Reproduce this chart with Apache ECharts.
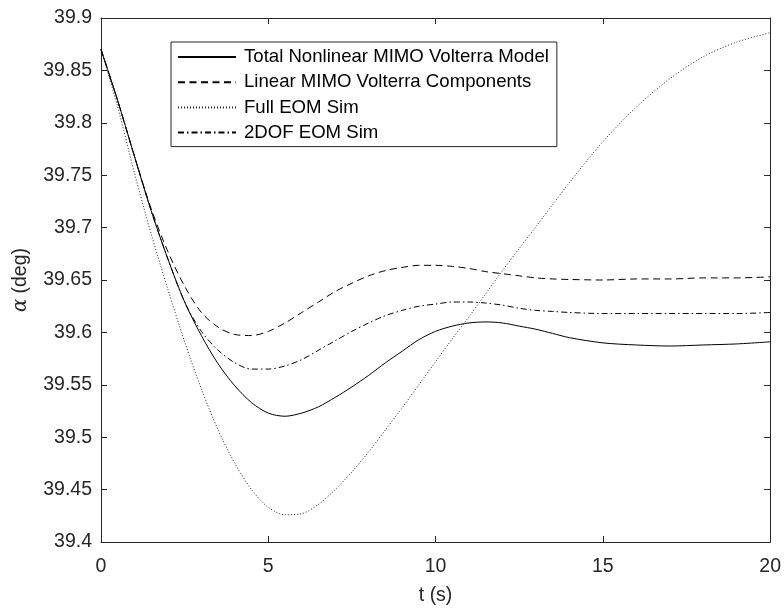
<!DOCTYPE html>
<html>
<head>
<meta charset="utf-8">
<script src="https://cdn.jsdelivr.net/npm/echarts@6/dist/echarts.min.js"></script>
<style>
html,body{margin:0;padding:0;background:#fff;}
#chart{width:784px;height:611px;}
</style>
</head>
<body>
<div id="chart"></div>
<script>
// ---- data ----
var timeS = [0,0.5,1,1.5,2,2.5,3,3.5,4,4.5,5,5.5,6,6.5,7,7.5,8,8.5,9,9.5,10,10.5,11,11.5,12,12.5,13,13.5,14,15,16,17,18,19,20];
var totalNonlinear = [39.870,39.821,39.768,39.716,39.670,39.629,39.597,39.570,39.549,39.533,39.523,39.520,39.523,39.529,39.538,39.548,39.559,39.571,39.582,39.593,39.601,39.606,39.609,39.610,39.609,39.606,39.603,39.599,39.595,39.590,39.588,39.587,39.588,39.589,39.591];
var linearComponents = [39.870,39.821,39.768,39.718,39.677,39.644,39.619,39.605,39.598,39.597,39.601,39.609,39.619,39.629,39.639,39.647,39.654,39.659,39.662,39.664,39.664,39.663,39.661,39.658,39.656,39.654,39.652,39.651,39.6505,39.650,39.651,39.651,39.652,39.652,39.653];
var fullEOM = [39.870,39.815,39.752,39.694,39.641,39.591,39.546,39.507,39.475,39.450,39.433,39.426,39.427,39.436,39.450,39.467,39.486,39.507,39.528,39.550,39.572,39.594,39.615,39.637,39.659,39.680,39.701,39.722,39.743,39.782,39.815,39.842,39.863,39.877,39.886];
var twoDOF = [39.870,39.821,39.768,39.716,39.670,39.629,39.601,39.583,39.571,39.565,39.565,39.568,39.574,39.583,39.592,39.601,39.609,39.616,39.621,39.625,39.627,39.629,39.629,39.628,39.626,39.623,39.621,39.620,39.619,39.618,39.618,39.618,39.618,39.618,39.619];
var seriesNames = ['Total Nonlinear MIMO Volterra Model','Linear MIMO Volterra Components','Full EOM Sim','2DOF EOM Sim'];
var xTicks = [0,5,10,15,20];
var yTicks = [39.4,39.45,39.5,39.55,39.6,39.65,39.7,39.75,39.8,39.85,39.9];

function pairs(ys){ return timeS.map(function(t,i){ return [t, ys[i]]; }); }

var axisColor = '#262626';
var font = 'Liberation Sans, Arial, Helvetica, sans-serif';

function mkX(pos, showLabel){
  return {
    type:'value', position:pos, min:xTicks[0], max:xTicks[xTicks.length-1], interval:5,
    axisLine:{show:true, onZero:false, lineStyle:{color:axisColor, width:1}},
    axisTick:{show:true, inside:true, length:6, lineStyle:{color:axisColor}},
    axisLabel:{show:showLabel, color:axisColor, fontSize:19.5, fontFamily:font, margin:15},
    splitLine:{show:false},
    name: showLabel ? 't (s)' : '', nameLocation:'middle', nameGap:44,
    nameTextStyle:{color:axisColor, fontSize:19.5, fontFamily:font}
  };
}
function mkY(pos, showLabel){
  return {
    type:'value', position:pos, min:yTicks[0], max:yTicks[yTicks.length-1], interval:0.05,
    axisLine:{show:true, onZero:false, lineStyle:{color:axisColor, width:1}},
    axisTick:{show:true, inside:true, length:6, lineStyle:{color:axisColor}},
    axisLabel:{show:showLabel, color:axisColor, fontSize:19.5, fontFamily:font, margin:9,
      formatter:function(v){ return String(+v.toFixed(2)); }},
    splitLine:{show:false},
    name: showLabel ? '{a|α} (deg)' : '', nameLocation:'middle', nameGap:70,
    nameTextStyle:{color:axisColor, fontSize:19.5, fontFamily:font,
      rich:{a:{fontFamily:'DejaVu Serif', fontStyle:'italic', fontSize:19.5, color:axisColor}}}
  };
}

var chart = echarts.init(document.getElementById('chart'), null, {renderer:'canvas'});
chart.setOption({
  animation:false,
  backgroundColor:'#fff',
  grid:{left:101, right:11, top:18, bottom:66, containLabel:false},
  xAxis:[mkX('bottom', true), mkX('top', false)],
  yAxis:[mkY('left', true), mkY('right', false)],
  legend:{
    orient:'vertical', left:171, top:42,
    data:seriesNames,
    itemWidth:58, itemHeight:14, itemGap:5.2,
    padding:[5,8,4,6],
    backgroundColor:'#fff', borderColor:axisColor, borderWidth:1,
    itemStyle:{color:'rgba(0,0,0,0)', borderWidth:0, opacity:0},
    textStyle:{color:'#000', fontSize:18.6, fontFamily:font, lineHeight:20, padding:[0,0,0,3]}
  },
  series:[
    {name:seriesNames[0], type:'line', data:pairs(totalNonlinear), smooth:0.3, symbol:'none',
     lineStyle:{color:'#000', width:1, type:'solid'}},
    {name:seriesNames[1], type:'line', data:pairs(linearComponents), smooth:0.3, symbol:'none',
     lineStyle:{color:'#000', width:1, type:[7,4.5]}},
    {name:seriesNames[2], type:'line', data:pairs(fullEOM), smooth:0.3, symbol:'none',
     lineStyle:{color:'#222', width:1, type:[1,2]}},
    {name:seriesNames[3], type:'line', data:pairs(twoDOF), smooth:0.3, symbol:'none',
     lineStyle:{color:'#000', width:1, type:[6,3,1.5,3]}}
  ]
});
</script>
</body>
</html>
